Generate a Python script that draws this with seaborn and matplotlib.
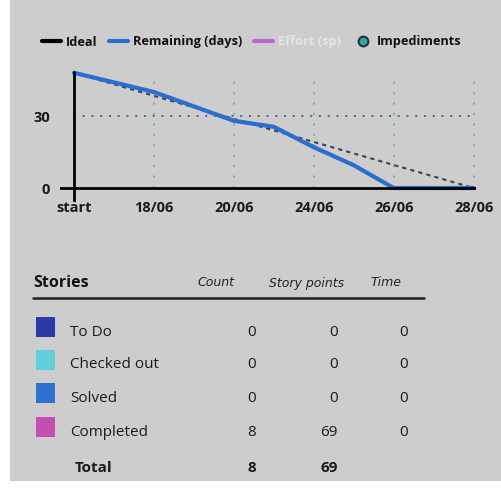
import numpy as np
import pandas as pd
import matplotlib
matplotlib.use("Agg")
import matplotlib.pyplot as plt
from matplotlib.lines import Line2D
from matplotlib.patches import Rectangle
import seaborn as sns

# burndown data
tick_labels = ["start", "18/06", "20/06", "24/06", "26/06", "28/06"]
remaining_x = [0, 1, 2, 2.5, 3, 3.5, 4, 5]
remaining_days = [48, 40, 28, 25.5, 17, 9.5, 0, 0]
ideal_x = [0, 5]
ideal_days = [48, 0]

# stories table
statuses = ["To Do", "Checked out", "Solved", "Completed"]
status_colors = ["#2b3aa8", "#5fd0da", "#2f6fcf", "#c24fb0"]
counts = [0, 0, 0, 8]
story_points = [0, 0, 0, 69]
times = [0, 0, 0, 0]

BG = "#cdcdcd"
FONT = ["Open Sans", "DejaVu Sans"]
ITAL = ["DejaVu Sans"]

sns.set_theme(style="white")
plt.rcParams["font.family"] = FONT

W, H = 502, 495
fig = plt.figure(figsize=(W / 100, H / 100), dpi=100, facecolor="white")
fig.patches.append(Rectangle((10 / W, 14 / H), 1, 1, transform=fig.transFigure,
                             facecolor=BG, edgecolor="none", zorder=-10))


def fx(px):
    return px / W


def fy(py):
    return 1 - py / H


# chart area
ax = fig.add_axes([fx(60), fy(202.4), fx(476) - fx(60), fy(68) - fy(202.4)])
ax.set_facecolor("none")
ax.set_xlim(-0.175, 5.03)
ax.set_ylim(-6, 50)
for s in ax.spines.values():
    s.set_visible(False)

# grid
ax.vlines(range(1, 6), 0, 48, colors="#7ab0cc", linestyles=(0, (1, 4)), lw=1.5, zorder=1)
ax.hlines(30, 0, 5, colors="#55657a", linestyles=(0, (1, 3.5)), lw=1.4, zorder=1)

ideal = pd.DataFrame({"x": ideal_x, "days": ideal_days})
remaining = pd.DataFrame({"x": remaining_x, "days": remaining_days})
sns.lineplot(data=ideal, x="x", y="days", ax=ax, color="#3a4455", lw=1.5,
             linestyle=(0, (2, 2)), sort=False, zorder=3)
sns.lineplot(data=remaining, x="x", y="days", ax=ax, color="#2a6fd0", lw=3,
             sort=False, zorder=4)

# axes lines
ax.axhline(0, color="black", lw=2, zorder=5)
ax.axvline(0, ymin=0, ymax=(48.5 + 6) / 56, color="black", lw=2, zorder=5)

ax.set_xticks(range(len(tick_labels)))
ax.set_xticklabels(tick_labels)
ax.set_yticks([0, 30])
ax.set_xlabel("")
ax.set_ylabel("")
ax.tick_params(axis="x", length=0, pad=-1, labelsize=10.5)
ax.tick_params(axis="y", length=0, pad=7, labelsize=10.5)
for lab in ax.get_xticklabels() + ax.get_yticklabels():
    lab.set_fontweight("bold")
    lab.set_color("#1a1a1a")

# legend
handles = [
    Line2D([], [], color="black", lw=3),
    Line2D([], [], color="#2a6fd0", lw=3),
    Line2D([], [], color="#b86ad0", lw=3),
    Line2D([], [], color="none", marker="o", markersize=7,
           markerfacecolor="#3aa39a", markeredgecolor="#1f3340", markeredgewidth=1.5),
]
leg = fig.legend(handles, ["Ideal", "Remaining (days)", "Effort (sp)", "Impediments"],
                 loc="center left", bbox_to_anchor=(fx(42), fy(42)), ncol=4,
                 frameon=False, borderpad=0, borderaxespad=0, handlelength=1.5,
                 handletextpad=0.35, columnspacing=0.95,
                 prop={"family": FONT, "weight": "bold", "size": 9.2})
for t, c in zip(leg.get_texts(), ["#111111", "#111111", "#e4e4e4", "#111111"]):
    t.set_color(c)

# stories table
fig.text(fx(33), fy(283), "Stories", fontsize=11.5, fontweight="bold", va="center",
         ha="left", color="#111111")
for label, cx in zip(["Count", "Story points", "Time"], [216, 307, 386]):
    fig.text(fx(cx), fy(283), label, fontsize=9, style="italic", family=ITAL,
             va="center", ha="center", color="#222222")
fig.add_artist(Line2D([fx(33), fx(424)], [fy(298), fy(298)], color="#222222", lw=1.8))

row_y = [332, 365, 398, 432]
kw = dict(fontsize=11, fontweight="medium", va="center", color="#1a1a1a")
for y, name, col, c, p, t in zip(row_y, statuses, status_colors, counts, story_points, times):
    fig.add_artist(Rectangle((fx(36), fy(y + 5)), fx(19), 20 / H, facecolor=col,
                             edgecolor="none", transform=fig.transFigure))
    fig.text(fx(70), fy(y), name, ha="left", **kw)
    fig.text(fx(256), fy(y), str(c), ha="right", **kw)
    fig.text(fx(338), fy(y), str(p), ha="right", **kw)
    fig.text(fx(408), fy(y), str(t), ha="right", **kw)

kw["fontweight"] = "bold"
fig.text(fx(75), fy(468), "Total", ha="left", **kw)
fig.text(fx(256), fy(468), str(sum(counts)), ha="right", **kw)
fig.text(fx(338), fy(468), str(sum(story_points)), ha="right", **kw)

fig.savefig("out.png", dpi=100, facecolor="white")
